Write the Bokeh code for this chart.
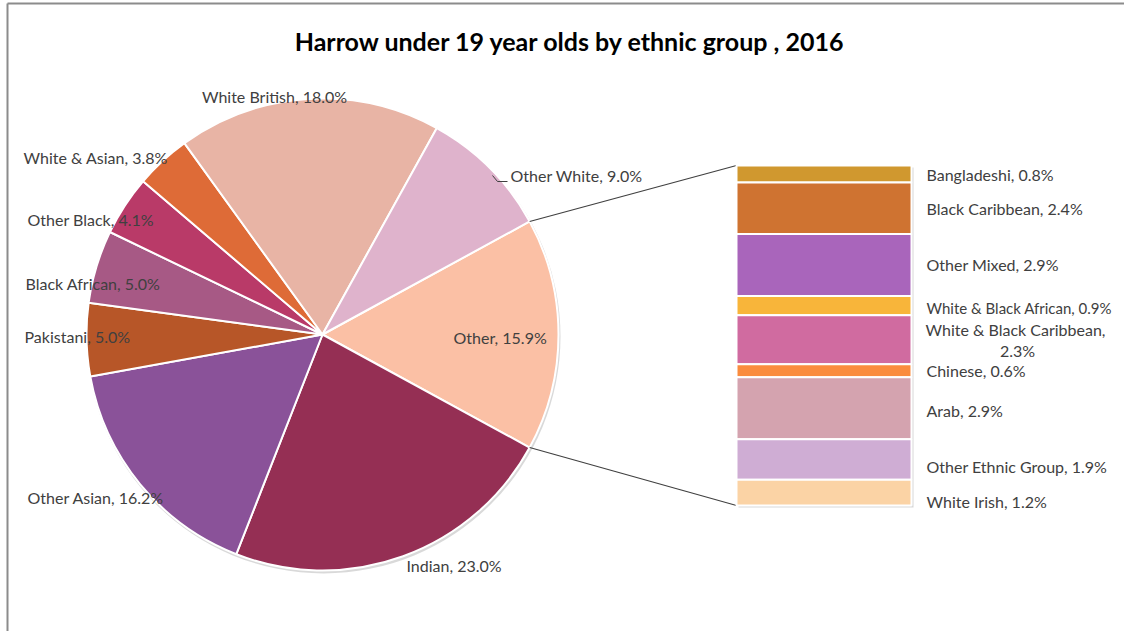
import math
from bokeh.plotting import figure
from bokeh.models import Range1d
from bokeh.core.properties import value
from bokeh.embed import file_html
from bokeh.resources import INLINE

# ---------------- data ----------------
pie_labels = ["Other", "Indian", "Other Asian", "Pakistani", "Black African",
              "Other Black", "White & Asian", "White British", "Other White"]
pie_values = [15.9, 23.0, 16.2, 5.0, 5.0, 4.1, 3.8, 18.0, 9.0]
pie_colors = ["#FBC0A5", "#952F54", "#8A5299", "#B75628", "#A75985",
              "#B93A68", "#DE6B37", "#E8B4A5", "#DFB3CC"]

bar_labels = ["Bangladeshi", "Black Caribbean", "Other Mixed", "White & Black African",
              "White & Black Caribbean", "Chinese", "Arab", "Other Ethnic Group", "White Irish"]
bar_values = [0.8, 2.4, 2.9, 0.9, 2.3, 0.6, 2.9, 1.9, 1.2]
bar_colors = ["#D0982F", "#CF7331", "#A965BB", "#F8B53A", "#D06BA0",
              "#FA8C3E", "#D4A3AF", "#CFADD4", "#FBD3A5"]

title = "Harrow under 19 year olds by ethnic group , 2016"

# ---------------- layout (screen pixels) ----------------
W, H = 1124, 631
def sx(X): return X
def sy(Y): return H - Y

CX, CY, R = 322, 334, 236
BAR_L, BAR_R, BAR_T, BAR_B = 736, 911, 165, 505

# label anchors (screen px) and alignment for pie labels
pie_label_pos = {
    "Other": (453, 337, "left"),
    "Indian": (406, 565, "left"),
    "Other Asian": (27, 497, "left"),
    "Pakistani": (24, 336, "left"),
    "Black African": (25, 283, "left"),
    "Other Black": (27, 219, "left"),
    "White & Asian": (23, 157, "left"),
    "White British": (274, 96, "center"),
    "Other White": (510, 175, "left"),
}
bar_label_nudge = [0, 0, 0, 2, 0, 0, 2, 7, 9]

FONT = value("Lato")
FS = "16px"
TXT = "#404040"

p = figure(width=W, height=H, x_range=Range1d(0, W), y_range=Range1d(0, H),
           output_backend="svg", toolbar_location=None, min_border=0)
p.axis.visible = False
p.grid.visible = False
p.outline_line_color = None
p.background_fill_color = "white"
p.border_fill_color = "white"

# chart border (left/top)
p.segment(x0=[sx(7), sx(7)], y0=[0, sy(3)], x1=[sx(7), W], y1=[sy(3), sy(3)],
          line_color="#8c8c8c", line_width=2)

# title
p.text(x=[sx(570)], y=[sy(40)], text=[title], text_font=FONT, text_font_size="25px",
       text_font_style="bold", text_align="center", text_baseline="middle", text_color="#000000")

# ---------------- pie ----------------
total = sum(pie_values)
fr = [v / total for v in pie_values]
theta = fr[0] * math.pi
starts, ends = [], []
for f in fr:
    ends.append(theta)
    starts.append(theta - f * 2 * math.pi)
    theta -= f * 2 * math.pi

# shadow
p.circle(x=[sx(CX) + 1], y=[sy(CY) - 2], radius=R + 1, fill_color="#cfcfcf",
         line_color=None, fill_alpha=0.8)
p.wedge(x=sx(CX), y=sy(CY), radius=R, start_angle=starts, end_angle=ends,
        direction="anticlock", fill_color=pie_colors, line_color="white", line_width=2)

# connector lines
a_top = fr[0] * math.pi
a_bot = -fr[0] * math.pi
px_top = (sx(CX) + R * math.cos(a_top), sy(CY) + R * math.sin(a_top))
px_bot = (sx(CX) + R * math.cos(a_bot), sy(CY) + R * math.sin(a_bot))
p.segment(x0=[px_top[0], px_bot[0]], y0=[px_top[1], px_bot[1]],
          x1=[sx(BAR_L), sx(BAR_L)], y1=[sy(BAR_T), sy(BAR_B)],
          line_color="#404040", line_width=1.2)

# pie labels
for lab, v in zip(pie_labels, pie_values):
    X, Y, al = pie_label_pos[lab]
    p.text(x=[sx(X)], y=[sy(Y)], text=[f"{lab}, {v:.1f}%"], text_font=FONT,
           text_font_size=FS, text_align=al, text_baseline="middle", text_color=TXT)

# leader line for Other White
p.line(x=[sx(492), sx(497), sx(507)], y=[sy(175), sy(181), sy(181)],
       line_color="#404040", line_width=1)

# ---------------- bar ----------------
btotal = sum(bar_values)
scale = (BAR_B - BAR_T) / btotal
tops, bots = [], []
acc = 0.0
for v in bar_values:
    tops.append(sy(BAR_T + acc * scale))
    acc += v
    bots.append(sy(BAR_T + acc * scale))

p.quad(left=[sx(BAR_L) + 2], right=[sx(BAR_R) + 2], top=[sy(BAR_T) - 2], bottom=[sy(BAR_B) - 2],
       fill_color="#c8c8c8", line_color=None, fill_alpha=0.7)
p.quad(left=sx(BAR_L), right=sx(BAR_R), top=tops, bottom=bots,
       fill_color=bar_colors, line_color="white", line_width=2)

for i, (lab, v) in enumerate(zip(bar_labels, bar_values)):
    yc = (tops[i] + bots[i]) / 2 - bar_label_nudge[i]
    fs = "15px" if lab == "White & Black African" else FS
    if lab == "White & Black Caribbean":
        p.text(x=[sx(925)], y=[yc + 10], text=[f"{lab},"], text_font=FONT,
               text_font_size=FS, text_align="left", text_baseline="middle", text_color=TXT)
        p.text(x=[sx(1017)], y=[yc - 11], text=[f"{v:.1f}%"], text_font=FONT,
               text_font_size=FS, text_align="center", text_baseline="middle", text_color=TXT)
    else:
        p.text(x=[sx(926)], y=[yc], text=[f"{lab}, {v:.1f}%"], text_font=FONT,
               text_font_size=fs, text_align="left", text_baseline="middle", text_color=TXT)

open("out.html", "w").write(file_html(p, INLINE))
